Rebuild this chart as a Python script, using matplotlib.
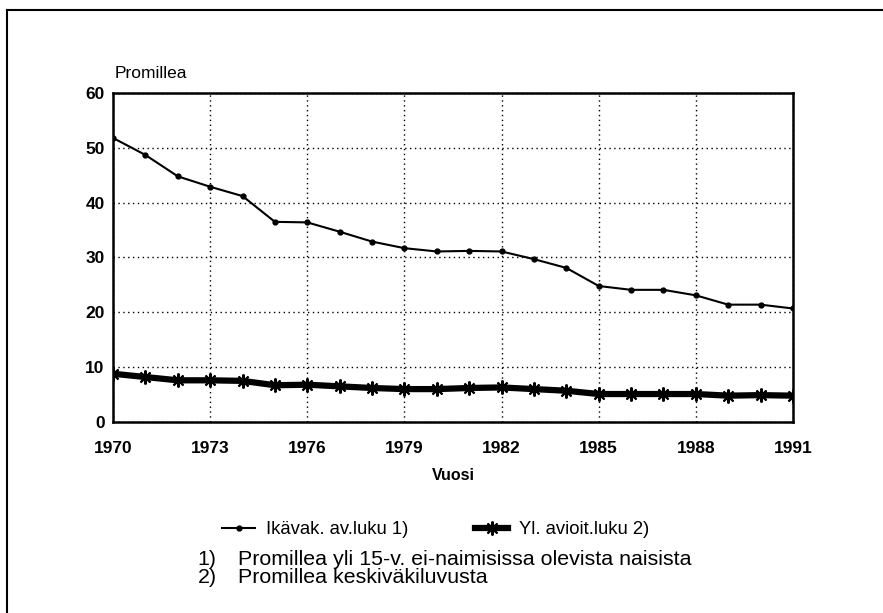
import matplotlib
matplotlib.use("Agg")
import matplotlib.pyplot as plt
from matplotlib.lines import Line2D

plt.rcParams['font.family'] = ['Liberation Sans', 'DejaVu Sans']

years = list(range(1970, 1992))
# Ikävak. av.luku (promillea yli 15-v. ei-naimisissa olevista naisista)
ikavak = [51.8, 48.7, 44.8, 42.9, 41.2, 36.5, 36.4, 34.7, 32.9, 31.7, 31.1,
          31.2, 31.1, 29.7, 28.1, 24.8, 24.1, 24.1, 23.1, 21.4, 21.4, 20.7]
# Yl. avioit.luku (promillea keskiväkiluvusta)
yleinen = [8.8, 8.2, 7.6, 7.6, 7.5, 6.7, 6.8, 6.5, 6.2, 6.0, 6.0,
           6.2, 6.3, 6.0, 5.7, 5.1, 5.1, 5.1, 5.1, 4.8, 4.9, 4.8]
xticks = list(range(1970, 1992, 3))
yticks = [0, 10, 20, 30, 40, 50, 60]

fig = plt.figure(figsize=(8.83, 6.13), dpi=100)
ax = fig.add_axes([0.128, 0.3116, 0.770, 0.5367])

ax.plot(years, ikavak, color='black', lw=1.5, marker='o', ms=3.5,
        label='Ikävak. av.luku 1)')
ax.plot(years, yleinen, color='black', lw=4.5, marker=(8, 2, 0), ms=10,
        mew=1.5, label='Yl. avioit.luku 2)')

ax.set_xlim(1970, 1991)
ax.set_ylim(0, 60)
ax.set_xticks(xticks)
ax.set_yticks(yticks)
ax.tick_params(length=0, labelsize=12.5)
ax.tick_params(axis='x', pad=14)
ax.tick_params(axis='y', pad=6)
for lab in ax.get_xticklabels() + ax.get_yticklabels():
    lab.set_fontweight('bold')
ax.grid(True, color='black', ls=(0, (1, 2.5)), lw=1)
for s in ax.spines.values():
    s.set_linewidth(1.8)

ax.text(0.003, 1.035, 'Promillea', transform=ax.transAxes, fontsize=12.5,
        ha='left', va='bottom')
ax.set_xlabel('Vuosi', fontsize=11.5, fontweight='bold', labelpad=8)

fig.legend(loc='upper left', bbox_to_anchor=(0.243, 0.162), ncol=2,
           frameon=False, fontsize=13.3, handlelength=1.8, columnspacing=3.6,
           handletextpad=0.6, borderaxespad=0)

fig.text(0.224, 0.088, '1)', fontsize=15.4, va='center')
fig.text(0.269, 0.088, 'Promillea yli 15-v. ei-naimisissa olevista naisista',
         fontsize=15.4, va='center')
fig.text(0.224, 0.058, '2)', fontsize=15.4, va='center')
fig.text(0.269, 0.058, 'Promillea keskiväkiluvusta', fontsize=15.4, va='center')

# outer frame (top and left edges visible)
fig.add_artist(Line2D([0.0075, 0.0075], [0, 0.984], color='black', lw=1.5,
                      transform=fig.transFigure))
fig.add_artist(Line2D([0.0075, 1], [0.984, 0.984], color='black', lw=1.5,
                      transform=fig.transFigure))

fig.savefig('out.png', dpi=100)
